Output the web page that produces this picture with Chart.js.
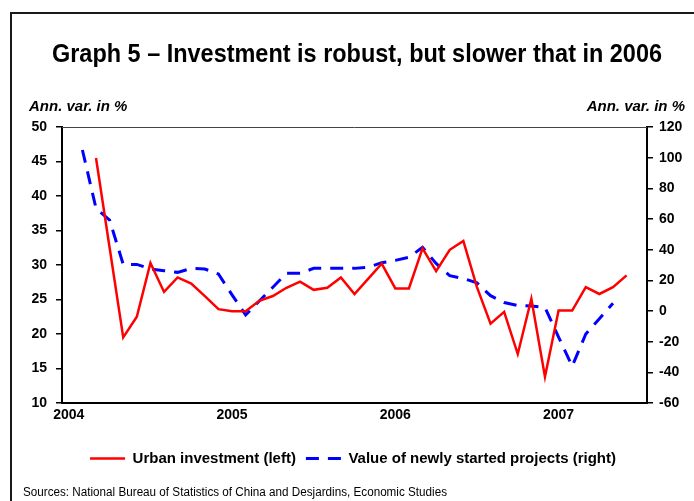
<!DOCTYPE html>
<html>
<head>
<meta charset="utf-8">
<script src="https://cdn.jsdelivr.net/npm/chart.js@4/dist/chart.umd.min.js"></script>
<style>
  html, body { margin: 0; padding: 0; background: #fff; }
  canvas { display: block; }
</style>
</head>
<body>
<canvas id="chart" width="694" height="501"></canvas>
<script>
// monthly categories, Jan 2004 .. Jul 2007
const months = [
  'Jan 2004', 'Feb 2004', 'Mar 2004', 'Apr 2004', 'May 2004', 'Jun 2004', 'Jul 2004', 'Aug 2004', 'Sep 2004', 'Oct 2004', 'Nov 2004', 'Dec 2004',
  'Jan 2005', 'Feb 2005', 'Mar 2005', 'Apr 2005', 'May 2005', 'Jun 2005', 'Jul 2005', 'Aug 2005', 'Sep 2005', 'Oct 2005', 'Nov 2005', 'Dec 2005',
  'Jan 2006', 'Feb 2006', 'Mar 2006', 'Apr 2006', 'May 2006', 'Jun 2006', 'Jul 2006', 'Aug 2006', 'Sep 2006', 'Oct 2006', 'Nov 2006', 'Dec 2006',
  'Jan 2007', 'Feb 2007', 'Mar 2007', 'Apr 2007', 'May 2007', 'Jun 2007', 'Jul 2007'
];
const yearLabels = ['2004', '2005', '2006', '2007'];

// Urban investment, ann. var. in % (left axis)
const urbanInvestment = [
  null, null, 45.5, 32.5, 19.5, 22.5, 30.3, 26.1, 28.2, 27.3, 25.5, 23.6,
  23.3, 23.3, 24.8, 25.5, 26.7, 27.6, 26.4, 26.7, 28.2, 25.8, 28.0, 30.2,
  26.6, 26.6, 32.4, 29.1, 32.2, 33.5, 26.8, 21.5, 23.2, 17.1, 25.1, 13.8,
  23.4, 23.4, 26.8, 25.8, 26.8, 28.5, null
];

// Value of newly started projects, ann. var. in % (right axis)
const newProjects = [
  null, 105, 67, 59.3, 30.4, 30.4, 27.4, 26.3, 25.2, 27.8, 27.4, 24.1,
  10.5, -2.6, 6.5, 15.5, 24.6, 24.6, 27.8, 27.8, 27.8, 27.8, 28.5, 31.5,
  33, 35, 41.5, 31, 23, 21.2, 18.3, 10, 5.5, 3.6, 3.3, 2.3,
  -17, -36, -15, -5, 5, null, null
];

const titleText = 'Graph 5 \u2013 Investment is robust, but slower that in 2006';
const unitLabel = 'Ann. var. in %';
const sourceText = 'Sources: National Bureau of Statistics of China and Desjardins, Economic Studies';
const FONT = '"Liberation Sans", Arial, sans-serif';

Chart.defaults.color = '#000';
Chart.defaults.font.family = FONT;

// frame, title, unit labels and source line
const decorations = {
  id: 'decorations',
  beforeDraw(chart) {
    const ctx = chart.ctx;
    ctx.save();
    ctx.fillStyle = '#fff';
    ctx.fillRect(0, 0, chart.width, chart.height);
    ctx.restore();
  },
  afterDraw(chart) {
    const ctx = chart.ctx;
    const a = chart.chartArea;
    ctx.save();
    ctx.strokeStyle = '#1a1a1a';
    ctx.lineWidth = 2;
    ctx.beginPath();
    ctx.moveTo(11, chart.height);
    ctx.lineTo(11, 13);
    ctx.lineTo(chart.width, 13);
    ctx.stroke();

    ctx.strokeStyle = '#444';
    ctx.lineWidth = 1;
    ctx.beginPath();
    ctx.moveTo(a.left, a.top + 0.5);
    ctx.lineTo(a.right, a.top + 0.5);
    ctx.stroke();

    ctx.fillStyle = '#000';
    ctx.textBaseline = 'alphabetic';
    ctx.font = 'bold 26px ' + FONT;
    ctx.textAlign = 'center';
    ctx.fillText(titleText, 357, 62, 610);

    ctx.font = 'italic bold 15px ' + FONT;
    ctx.textAlign = 'left';
    ctx.fillText(unitLabel, 29, 111, 100);
    ctx.textAlign = 'right';
    ctx.fillText(unitLabel, 685, 111, 100);

    ctx.font = '12px ' + FONT;
    ctx.textAlign = 'left';
    ctx.fillText(sourceText, 23, 496, 424);
    ctx.restore();
  }
};

new Chart(document.getElementById('chart'), {
  type: 'line',
  data: {
    labels: months,
    datasets: [{
      label: 'Urban investment (left)',
      data: urbanInvestment,
      yAxisID: 'y',
      borderColor: '#ff0000',
      backgroundColor: '#ff0000',
      borderWidth: 2.5,
      pointRadius: 0,
      tension: 0
    }, {
      label: 'Value of newly started projects (right)',
      data: newProjects,
      yAxisID: 'y1',
      borderColor: '#0000ff',
      backgroundColor: '#0000ff',
      borderWidth: 3,
      borderDash: [13, 9],
      pointRadius: 0,
      tension: 0
    }]
  },
  options: {
    responsive: false,
    animation: false,
    devicePixelRatio: 1,
    layout: { padding: { left: 12, right: 0, top: 127, bottom: 25 } },
    plugins: {
      title: { display: false },
      legend: {
        position: 'bottom',
        labels: {
          usePointStyle: true,
          pointStyle: 'line',
          pointStyleWidth: 35,
          padding: 10,
          font: { size: 15, weight: 'bold' },
          generateLabels: function (chart) {
            const items = Chart.defaults.plugins.legend.labels.generateLabels(chart);
            items.forEach(function (item, i) {
              const ds = chart.data.datasets[i];
              item.lineDash = ds.borderDash || [];
              item.lineWidth = ds.borderWidth;
              item.strokeStyle = ds.borderColor;
            });
            return items;
          }
        }
      },
      tooltip: { enabled: false }
    },
    scales: {
      x: {
        type: 'category',
        offset: true,
        grid: { display: true, drawOnChartArea: false, drawTicks: false },
        border: { display: true, color: '#000', width: 2 },
        ticks: {
          autoSkip: false,
          maxRotation: 0,
          padding: 4,
          font: { size: 14, weight: 'bold' },
          callback: function (value, index) {
            return index % 12 === 0 ? yearLabels[index / 12] : '';
          }
        },
        afterFit: function (scale) { scale.height = 38; }
      },
      y: {
        position: 'left',
        min: 10,
        max: 50,
        grid: { drawOnChartArea: false, drawTicks: true, tickLength: 6, color: '#000', lineWidth: 1.5 },
        border: { display: true, color: '#000', width: 2 },
        ticks: { stepSize: 5, padding: 9, font: { size: 14, weight: 'bold' } },
        afterFit: function (scale) { scale.width = 50; }
      },
      y1: {
        position: 'right',
        min: -60,
        max: 120,
        grid: { drawOnChartArea: false, drawTicks: true, tickLength: 6, color: '#000', lineWidth: 1.5 },
        border: { display: true, color: '#000', width: 2 },
        ticks: { stepSize: 20, padding: 6, font: { size: 14, weight: 'bold' } },
        afterFit: function (scale) { scale.width = 47; }
      }
    }
  },
  plugins: [decorations]
});
</script>
</body>
</html>
